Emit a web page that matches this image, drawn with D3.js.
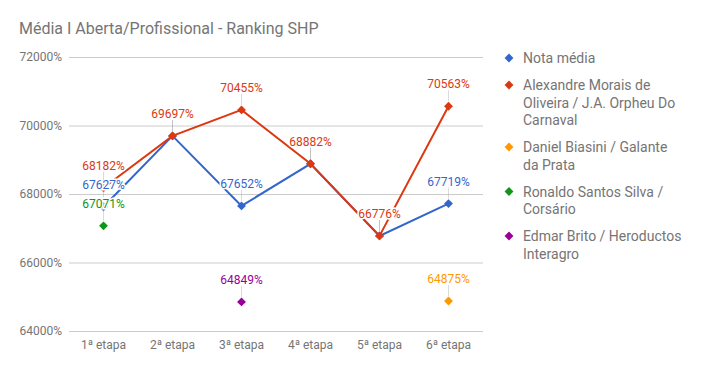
<!DOCTYPE html>
<html>
<head>
<meta charset="utf-8">
<script src="https://cdn.jsdelivr.net/npm/d3@7"></script>
<style>
  body { margin: 0; background: #fff; }
  text { font-family: Roboto, "Noto Sans", sans-serif; }
</style>
</head>
<body>
<div id="chart"></div>
<script>
var etapas = ["1ª etapa", "2ª etapa", "3ª etapa", "4ª etapa", "5ª etapa", "6ª etapa"];
var yTicks = [64000, 66000, 68000, 70000, 72000];

var notaMedia = [67627, 69697, 67652, 68882, 66776, 67719];
var alexandre = [68182, 69697, 70455, 68882, 66776, 70563];
var daniel    = [null, null, null, null, null, 64875];
var ronaldo   = [67071, null, null, null, null, null];
var edmar     = [null, null, 64849, null, null, null];

var seriesNames = [
  ["Nota média"],
  ["Alexandre Morais de", "Oliveira / J.A. Orpheu Do", "Carnaval"],
  ["Daniel Biasini / Galante", "da Prata"],
  ["Ronaldo Santos Silva /", "Corsário"],
  ["Edmar Brito / Heroductos", "Interagro"]
];
var colors = ["#3366cc", "#dc3912", "#ff9900", "#109618", "#990099"];
var seriesValues = [notaMedia, alexandre, daniel, ronaldo, edmar];

var series = seriesValues.map(function(v, i) {
  return { name: seriesNames[i], color: colors[i],
           values: v.map(function(d, j) { return { cat: etapas[j], value: d }; }) };
});

var W = 701, H = 371;
var svg = d3.select("#chart").append("svg")
    .attr("width", W).attr("height", H);

svg.append("text")
  .attr("x", 19).attr("y", 34)
  .attr("font-size", 16).attr("fill", "#757575")
  .text("Média I Aberta/Profissional - Ranking SHP");

var x = d3.scaleBand().domain(etapas).range([69, 483]).padding(0);
var y = d3.scaleLinear().domain([64000, 72000]).range([331, 57]);
function cx(d) { return x(d.cat) + x.bandwidth() / 2; }

// gridlines
svg.append("g").selectAll("line").data(yTicks).enter().append("line")
  .attr("x1", 69).attr("x2", 483)
  .attr("y1", function(d) { return y(d) + 0.5; })
  .attr("y2", function(d) { return y(d) + 0.5; })
  .attr("stroke", function(d) { return d === 64000 ? "#cccccc" : "#cccccc"; })
  .attr("stroke-width", 1);

// y axis labels
svg.append("g").selectAll("text").data(yTicks).enter().append("text")
  .attr("x", 62).attr("y", function(d) { return y(d) + 4; })
  .attr("text-anchor", "end").attr("font-size", 12).attr("fill", "#757575")
  .text(function(d) { return d + "%"; });

// x axis labels
svg.append("g").selectAll("text").data(etapas).enter().append("text")
  .attr("x", function(d) { return x(d) + x.bandwidth() / 2; })
  .attr("y", 349)
  .attr("text-anchor", "middle").attr("font-size", 12).attr("fill", "#757575")
  .text(function(d) { return d; });

var line = d3.line()
  .defined(function(d) { return d.value !== null; })
  .x(cx).y(function(d) { return y(d.value); });

var diamond = d3.symbol().type(d3.symbolDiamond2).size(50);

series.forEach(function(s) {
  var pts = s.values.filter(function(d) { return d.value !== null; });
  if (pts.length > 1) {
    svg.append("path").datum(s.values)
      .attr("d", line).attr("fill", "none")
      .attr("stroke", s.color).attr("stroke-width", 2);
  }
  svg.append("g").selectAll("path").data(pts).enter().append("path")
    .attr("d", diamond)
    .attr("transform", function(d) { return "translate(" + cx(d) + "," + y(d.value) + ")"; })
    .attr("fill", s.color);
});

// annotations
series.forEach(function(s) {
  var pts = s.values.filter(function(d) { return d.value !== null; });
  var g = svg.append("g");
  g.selectAll("line").data(pts).enter().append("line")
    .attr("x1", cx).attr("x2", cx)
    .attr("y1", function(d) { return y(d.value) - 5; })
    .attr("y2", function(d) { return y(d.value) - 16; })
    .attr("stroke", "#999").attr("stroke-opacity", 0.35);
  g.selectAll("text").data(pts).enter().append("text")
    .attr("x", cx).attr("y", function(d) { return y(d.value) - 18; })
    .attr("text-anchor", "middle").attr("font-size", 12)
    .attr("fill", s.color)
    .attr("stroke", "#fff").attr("stroke-width", 3)
    .attr("paint-order", "stroke")
    .text(function(d) { return d.value + "%"; });
});

// legend
var ly = 63;
series.forEach(function(s) {
  var g = svg.append("g").attr("transform", "translate(0," + ly + ")");
  g.append("path").attr("d", diamond)
    .attr("transform", "translate(509,-5)").attr("fill", s.color);
  s.name.forEach(function(t, k) {
    g.append("text").attr("x", 523).attr("y", k * 17.5)
      .attr("font-size", 14).attr("fill", "#757575").text(t);
  });
  ly += (s.name.length - 1) * 17.5 + 27;
});
</script>
</body>
</html>
